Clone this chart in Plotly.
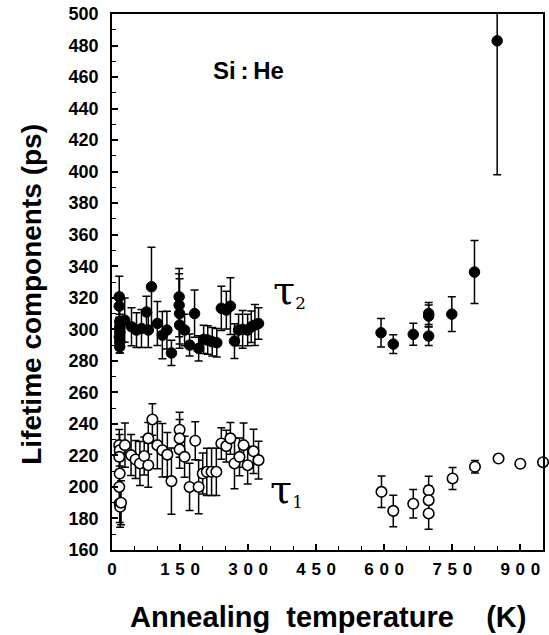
import plotly.graph_objects as go

# tau2 (filled circles)
t2_temp = [16, 16, 17, 17, 17, 16, 17, 17, 28, 43, 54, 65, 76, 80, 87, 100, 111, 121, 131,
           148, 148, 149, 149, 160, 171, 182, 191, 202, 211, 221, 231, 241, 252, 261, 270,
           279, 288, 299, 307, 315, 323,
           593, 620, 664, 698, 698, 698, 749, 799, 849]
t2_val = [320.6, 314.7, 304.8, 301.6, 298.4, 295.2, 292.0, 288.9, 305.8, 301.6, 299.5, 300.5,
          311.0, 299.5, 327.0, 303.7, 296.3, 299.5, 285.0,
          320.6, 315.3, 310.0, 302.7, 299.5, 290.0, 310.0, 287.9, 293.6, 293.2, 292.1, 291.5,
          313.3, 312.2, 314.7, 292.5, 299.5, 299.9, 299.5, 301.6, 302.7, 303.7,
          297.8, 290.6, 296.8, 310.0, 308.4, 295.7, 309.6, 336.3, 483.0]
t2_err = [13, 8, 8, 8, 8, 8, 7, 4, 14, 12, 11, 12, 10, 11, 25, 14, 15, 12, 8,
          18, 20, 22, 12, 10, 7, 15, 8, 9, 9, 9, 9, 14, 12, 18, 11, 10, 12, 10, 10, 13, 10,
          9, 6, 7, 7, 7, 6, 11, 20, 85]

# tau1 (open circles)
t1_temp = [16, 17, 16, 17, 16, 17, 18, 20, 28.5, 42, 52, 61.5, 71, 80, 80, 89, 100, 111, 122,
           131, 149, 149, 149, 160, 171, 183.5, 191, 200, 209, 219.5, 230, 241, 252, 261, 270,
           281, 290, 299, 312, 323,
           594, 620, 664, 698, 698, 698, 750.7, 800, 852, 900, 950]
t1_val = [226.5, 223.3, 219.1, 208.5, 200.0, 189.5, 187.4, 190.0, 226.5, 220.2, 217.4, 214.9,
          219.6, 213.8, 230.8, 242.8, 226.5, 223.3, 220.5, 203.7, 236.3, 230.8, 223.8, 219.1,
          200.0, 229.3, 200.0, 208.5, 209.6, 209.6, 209.6, 227.6, 225.9, 230.8, 214.9, 219.1,
          226.5, 213.8, 222.6, 217.0,
          196.9, 184.8, 189.3, 197.8, 191.6, 183.2, 205.4, 212.8, 218.0, 214.7, 215.7]
t1_err = [10, 10, 10, 10, 10, 12, 13, 14, 14, 13, 12, 14, 12, 14, 10, 10, 15, 17, 14, 21,
          11, 12, 12, 13, 15, 12, 17, 13, 15, 15, 15, 10, 10, 10, 16, 12, 14, 12, 14, 12,
          10, 10, 9, 9, 9, 10, 7, 4, 0, 0, 0]

y_ticks = list(range(160, 501, 20))
x_ticks = [0, 150, 300, 450, 600, 750, 900]
x_ticktext = ["\u2004".join(str(v)) for v in x_ticks]

fig = go.Figure()
fig.add_trace(go.Scatter(
    x=t2_temp, y=t2_val, mode="markers",
    marker=dict(symbol="circle", size=10.5, color="black", line=dict(color="black", width=1)),
    error_y=dict(type="data", array=t2_err, visible=True, color="black", thickness=1.5, width=4),
    showlegend=False))
fig.add_trace(go.Scatter(
    x=t1_temp, y=t1_val, mode="markers", cliponaxis=False,
    marker=dict(symbol="circle", size=10.5, color="white", line=dict(color="black", width=1.6)),
    error_y=dict(type="data", array=t1_err, visible=True, color="black", thickness=1.5, width=4),
    showlegend=False))

fig.update_layout(
    width=549, height=635,
    margin=dict(l=112, r=4, t=14, b=85),
    paper_bgcolor="white", plot_bgcolor="white",
    font=dict(family="Liberation Sans, Arial, sans-serif", color="black"),
    xaxis=dict(range=[0, 950], tickvals=x_ticks, ticktext=x_ticktext,
               ticks="inside", ticklen=6, tickwidth=1.5, tickcolor="black",
               minor=dict(dtick=50, tick0=0, ticks="inside", ticklen=4, tickwidth=1.2, tickcolor="black"),
               showline=True, linecolor="black", linewidth=1.8, mirror=True,
               showgrid=False, zeroline=False, ticklabelstandoff=3,
               tickfont=dict(size=17, family="Liberation Sans, Arial", weight="bold")),
    yaxis=dict(range=[160, 500], tickvals=y_ticks,
               ticks="inside", ticklen=6, tickwidth=1.5, tickcolor="black",
               minor=dict(dtick=10, tick0=160, ticks="inside", ticklen=4, tickwidth=1.2, tickcolor="black"),
               showline=True, linecolor="black", linewidth=1.8, mirror=True,
               showgrid=False, zeroline=False, ticklabelstandoff=8,
               tickfont=dict(size=18, family="Liberation Sans, Arial", weight="bold")),
    annotations=[
        dict(text="Annealing\u00a0\u00a0temperature\u00a0\u00a0\u00a0\u00a0(K)", xref="paper", yref="paper",
             x=0.5, y=-0.125, xanchor="center", yanchor="middle", showarrow=False,
             font=dict(size=29, family="Liberation Sans, Arial", weight="bold")),
        dict(text="Lifetime components (ps)", xref="paper", yref="paper", textangle=-90,
             x=-0.187, y=0.477, xanchor="center", yanchor="middle", showarrow=False,
             font=dict(size=28, family="Liberation Sans, Arial", weight="bold")),
        dict(text="Si\u2009:\u2009He", x=300, y=464, xref="x", yref="y", showarrow=False,
             xanchor="center", yanchor="middle",
             font=dict(size=24, family="Liberation Sans, Arial", weight="bold")),
        dict(text="<span style='font-size:40px'>τ</span><sub>2</sub>", x=391, y=325, xref="x", yref="y",
             showarrow=False, xanchor="center", yanchor="middle",
             font=dict(size=24, family="DejaVu Serif, serif")),
        dict(text="<span style='font-size:40px'>τ</span><sub>1</sub>", x=384, y=199, xref="x", yref="y",
             showarrow=False, xanchor="center", yanchor="middle",
             font=dict(size=24, family="DejaVu Serif, serif")),
    ],
)

fig.write_html("out.html", config={"displayModeBar": False},
               post_script="document.body.style.margin='0';document.body.style.padding='0';")
